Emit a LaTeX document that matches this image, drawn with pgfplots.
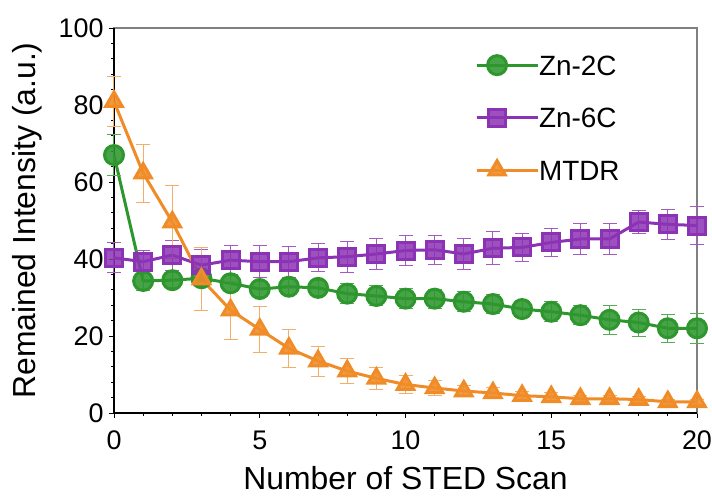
\documentclass[border=0pt]{standalone}
\usepackage{pgfplots}
\pgfplotsset{compat=1.18}
\usepackage{fontspec}
\setmainfont{Liberation Sans}
\definecolor{cgreen}{RGB}{45,150,45}
\definecolor{cpurple}{RGB}{140,50,180}
\definecolor{corange}{RGB}{240,140,40}
\pgfplotstableread{
x y e
0 67.0 5.3
1 34.3 2.5
2 34.5 2.0
3 35.0 2.0
4 33.7 2.2
5 32.2 2.0
6 32.8 2.0
7 32.5 2.0
8 31.0 2.6
9 30.4 2.6
10 29.7 2.6
11 29.7 2.5
12 28.9 2.6
13 28.3 2.5
14 27.0 2.2
15 26.3 2.6
16 25.4 2.4
17 24.2 3.7
18 23.5 3.5
19 22.0 3.7
20 22.0 3.9
}\zntwo
\pgfplotstableread{
x y e
0 40.3 3.9
1 39.3 3.0
2 41.0 3.9
3 38.4 4.0
4 39.7 3.9
5 39.3 4.2
6 39.3 4.0
7 40.3 3.6
8 40.6 4.0
9 41.3 3.9
10 42.2 3.8
11 42.4 3.8
12 41.3 3.9
13 42.8 4.3
14 43.0 3.6
15 44.3 3.6
16 45.2 4.0
17 45.2 4.0
18 49.6 3.1
19 49.0 3.9
20 48.7 5.0
}\znsix
\pgfplotstableread{
x y e
0 80.9 6.5
1 62.3 7.5
2 49.6 9.5
3 34.8 8.2
4 26.7 7.5
5 21.7 6.0
6 16.8 4.9
7 13.5 3.9
8 10.9 3.2
9 9.0 2.8
10 7.4 2.4
11 6.5 2.0
12 5.7 1.5
13 5.2 1.3
14 4.5 1.2
15 4.2 1.0
16 3.7 0.8
17 3.7 0.8
18 3.5 0.8
19 2.9 0.6
20 2.9 0.6
}\mtdr
\begin{document}
\begin{tikzpicture}
\begin{axis}[
  scale only axis, width=583bp, height=385bp,
  xmin=0, xmax=20, ymin=0, ymax=100,
  xtick={0,5,...,20}, ytick={0,20,...,100},
  minor x tick num=4, minor y tick num=4,
  xtick pos=bottom, ytick pos=left,
  tick align=outside,
  major tick length=5bp, minor tick length=3bp,
  tick style={black, line width=0.8bp},
  axis line style={draw=gray, line width=1.2bp},
  /pgf/number format/assume math mode=true,
  ticklabel style={font=\fontsize{27}{31}\selectfont},
  xticklabel style={yshift=-9bp},
  yticklabel style={xshift=-2bp},
  label style={font=\fontsize{32}{37}\selectfont},
  xlabel={Number of STED Scan},
  ylabel={Remained Intensity (a.u.)},
  xlabel style={at={(axis description cs:0.5,-0.168)}, anchor=center},
  ylabel style={at={(axis description cs:-0.148,0.5)}, anchor=center},
  clip=false,
  legend cell align=left,
  legend style={at={(axis cs:12.38,93)}, anchor=north west, draw=none, fill=none,
    inner sep=0pt,
    font=\fontsize{28}{32}\selectfont, row sep=32.5bp,
    nodes={inner sep=0pt, text height=20bp, text depth=0bp}},
  legend image code/.code={\draw[mark repeat=2,mark phase=2,#1] plot coordinates {(0bp,0bp) (20.5bp,0bp) (41bp,0bp)};
    \path (0bp,0bp) -- (61bp,0bp);},
]
\draw[black, line width=1.2bp] (rel axis cs:0,1) -- (rel axis cs:0,0) -- (rel axis cs:1,0);
\addplot[cgreen, line width=3bp, mark=*, mark size=9.5bp,
  mark options={fill=cgreen, draw=none, fill opacity=0.88},
  error bars/.cd, y dir=both, y explicit,
  error bar style={cgreen!80, line width=1bp},
  error mark options={cgreen!80, line width=1bp, mark size=7bp, rotate=90}]
  table[x=x, y=y, y error=e] {\zntwo};
\addlegendentry{Zn-2C}
\addplot[cpurple, line width=3bp, mark=square*, mark size=8.5bp,
  mark options={fill=cpurple, draw=none, fill opacity=0.85},
  error bars/.cd, y dir=both, y explicit,
  error bar style={cpurple!80, line width=1bp},
  error mark options={cpurple!80, line width=1bp, mark size=7bp, rotate=90}]
  table[x=x, y=y, y error=e] {\znsix};
\addlegendentry{Zn-6C}
\addplot[corange, line width=3bp, mark=triangle*, mark size=9.5bp,
  mark options={fill=corange, draw=none, fill opacity=0.88},
  error bars/.cd, y dir=both, y explicit,
  error bar style={corange!70, line width=1bp},
  error mark options={corange!70, line width=1bp, mark size=7bp, rotate=90}]
  table[x=x, y=y, y error=e] {\mtdr};
\addlegendentry{MTDR}
\end{axis}
\pgfresetboundingbox
\path (-114bp,-84bp) rectangle (598bp,413bp);
\end{tikzpicture}
\end{document}
